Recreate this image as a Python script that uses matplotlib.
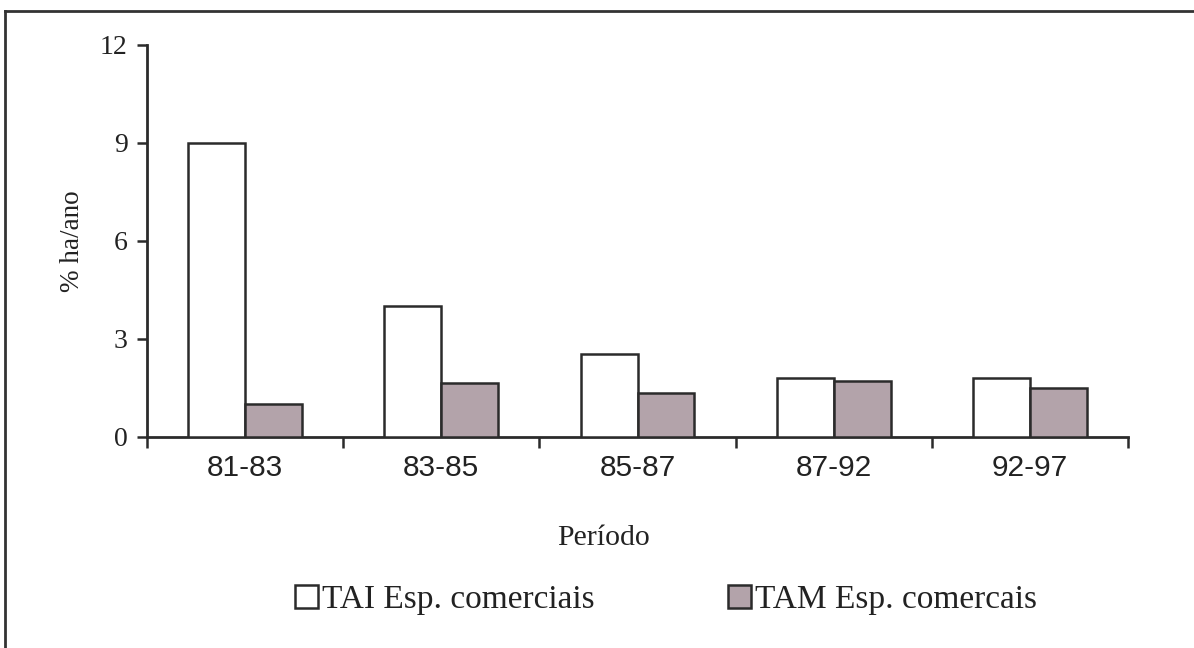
import matplotlib
matplotlib.use("Agg")
import matplotlib.pyplot as plt
from matplotlib.lines import Line2D
from matplotlib.patches import Patch
import numpy as np

categories = ["81-83", "83-85", "85-87", "87-92", "92-97"]
tai = [9.0, 4.0, 2.55, 1.8, 1.8]
tam = [1.0, 1.65, 1.35, 1.72, 1.5]
series_names = ["TAI Esp. comerciais", "TAM Esp. comercais"]
yticks = [0, 3, 6, 9, 12]

serif = ["Liberation Serif", "DejaVu Serif"]
sans = ["Liberation Sans", "DejaVu Sans"]
gray = "#b3a3aa"
edge = "#2b2b2b"

fig = plt.figure(figsize=(11.94, 6.48), dpi=100)
ax = fig.add_axes([147/1194, 1-437/648, (1128-147)/1194, (437-45)/648])

x = np.arange(len(categories))
w = 0.29
ax.bar(x - w/2, tai, width=w, color="white", edgecolor=edge, linewidth=1.8, zorder=3)
ax.bar(x + w/2, tam, width=w, color=gray, edgecolor=edge, linewidth=1.8, zorder=3)

ax.set_xlim(-0.5, len(categories) - 0.5)
ax.set_ylim(0, 12)
ax.set_yticks(yticks)
ax.set_yticklabels([str(t) for t in yticks], fontfamily=serif, fontsize=20, color="#222")
ax.set_xticks(x)
ax.set_xticklabels(categories, fontfamily=sans, fontsize=21.5, color="#222")
ax.set_xticks(np.arange(-0.5, len(categories)), minor=True)
ax.tick_params(axis="x", which="major", length=0, pad=12)
ax.tick_params(axis="x", which="minor", length=8, width=1.8, color=edge, direction="out")
ax.tick_params(axis="y", length=7, width=1.8, color=edge, pad=7)

for s in ["top", "right"]:
    ax.spines[s].set_visible(False)
for s in ["left", "bottom"]:
    ax.spines[s].set_linewidth(2.0)
    ax.spines[s].set_color(edge)

ax.set_ylabel("% ha/ano", fontfamily=serif, fontsize=19.5, color="#222", labelpad=11)
ax.set_xlabel("Período", fontfamily=serif, fontsize=21.5, color="#222")
ax.xaxis.set_label_coords((603-147)/981, -0.225)

handles = [Patch(facecolor="white", edgecolor=edge, linewidth=1.8),
           Patch(facecolor=gray, edgecolor=edge, linewidth=1.8)]
fig.legend(handles, series_names, loc="center", bbox_to_anchor=(666/1194, 1-600/648),
           ncol=2, frameon=False, prop={"family": serif, "size": 24},
           handlelength=0.68, handleheight=0.68, handletextpad=0.12,
           columnspacing=4.0, labelcolor="#222")

# outer frame (left and top lines visible)
fig.add_artist(Line2D([5/1194, 5/1194], [0, 1-11/648], transform=fig.transFigure,
                      color="#333", linewidth=2))
fig.add_artist(Line2D([5/1194, 1], [1-11/648, 1-11/648], transform=fig.transFigure,
                      color="#333", linewidth=2))

fig.savefig("out.png", dpi=100)
